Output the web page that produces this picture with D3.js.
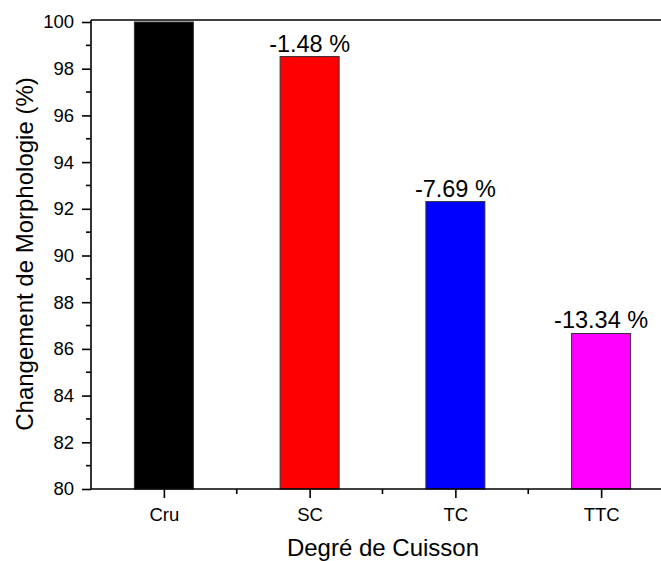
<!DOCTYPE html>
<html><head><meta charset="utf-8">
<script src="https://cdn.jsdelivr.net/npm/d3@7"></script>
<style>body{margin:0;background:#fff;} svg{display:block;font-family:"Liberation Sans",Arial,sans-serif;}</style>
</head><body>
<svg id="c" width="661" height="561"></svg>
<script>
const categories = ["Cru", "SC", "TC", "TTC"];
const values = [100, 98.52, 92.31, 86.66];
const barLabels = ["", "-1.48 %", "-7.69 %", "-13.34 %"];
const colors = ["#000000", "#ff0000", "#0000ff", "#ff00ff"];
const yTicks = [80, 82, 84, 86, 88, 90, 92, 94, 96, 98, 100];

(function () {
const svg = d3.select("#c");
const pL = 91, pR = 674, pT = 22, pB = 489;
const FF = "Liberation Sans, Arial, sans-serif";

const x = d3.scaleLinear().domain([0.5, 4.5]).range([pL, pR]);
const y = d3.scaleLinear().domain([80, 100]).range([pB, pT]);
const bw = 59;

svg.selectAll("rect.bar").data(values).enter().append("rect")
  .attr("class", "bar")
  .attr("x", (d, i) => x(i + 1) - bw / 2)
  .attr("y", d => y(d))
  .attr("width", bw)
  .attr("height", d => y(80) - y(d))
  .attr("fill", (d, i) => colors[i])
  .attr("stroke", "#333").attr("stroke-width", 1);

svg.selectAll("text.bl").data(values).enter().append("text")
  .attr("class", "bl")
  .attr("x", (d, i) => x(i + 1))
  .attr("y", d => y(d) - 5)
  .attr("text-anchor", "middle")
  .attr("font-size", 23.5)
  .attr("font-family", FF)
  .attr("fill", "#000")
  .text((d, i) => barLabels[i]);

svg.append("line").attr("x1", pL).attr("x2", pR).attr("y1", 20).attr("y2", 20)
  .attr("stroke", "#000").attr("stroke-width", 1.6);

const yAxis = d3.axisLeft(y).tickValues(yTicks).tickSize(9).tickPadding(8).tickFormat(d3.format("d"));
const ya = svg.append("g").attr("transform", `translate(${pL},0)`).call(yAxis);
ya.select(".domain").attr("stroke-width", 1.6).attr("d", `M0,${pB}V20`);
ya.selectAll(".tick line").attr("stroke-width", 1.6);
ya.selectAll(".tick text").attr("font-size", 18.5).attr("font-family", FF).attr("fill", "#000");
const yMinor = d3.range(81, 100, 2);
ya.selectAll("line.minor").data(yMinor).enter().append("line")
  .attr("class", "minor")
  .attr("x1", -5).attr("x2", 0).attr("y1", d => y(d)).attr("y2", d => y(d))
  .attr("stroke", "#000").attr("stroke-width", 1.6);

const xAxis = d3.axisBottom(x).tickValues([1, 2, 3, 4]).tickSize(9).tickPadding(10)
  .tickFormat((d) => categories[d - 1]);
const xa = svg.append("g").attr("transform", `translate(0,${pB})`).call(xAxis);
xa.select(".domain").attr("stroke-width", 1.6).attr("d", `M${pL},0H${pR}`);
xa.selectAll(".tick line").attr("stroke-width", 1.6);
xa.selectAll(".tick text").attr("font-size", 18.5).attr("font-family", FF).attr("fill", "#000");
xa.selectAll("line.minor").data([1.5, 2.5, 3.5, 4.5]).enter().append("line")
  .attr("class", "minor")
  .attr("x1", d => x(d)).attr("x2", d => x(d)).attr("y1", 0).attr("y2", 5)
  .attr("stroke", "#000").attr("stroke-width", 1.6);

svg.append("text").attr("x", 383).attr("y", 556).attr("text-anchor", "middle")
  .attr("font-size", 24).attr("font-family", FF).text("Degré de Cuisson");
svg.append("text").attr("transform", "translate(33,254) rotate(-90)").attr("text-anchor", "middle")
  .attr("font-size", 24).attr("font-family", FF).text("Changement de Morphologie (%)");
})();
</script>
</body></html>
